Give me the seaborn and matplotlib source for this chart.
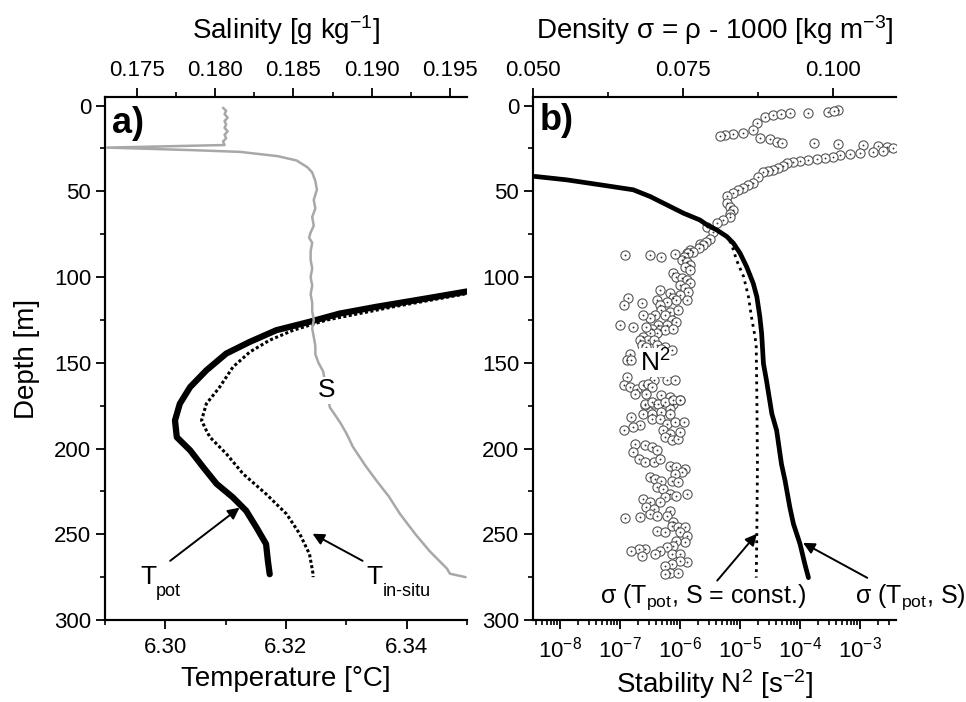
import numpy as np
import pandas as pd
import matplotlib
matplotlib.use("Agg")
import matplotlib.pyplot as plt
import seaborn as sns
from matplotlib.ticker import MultipleLocator, LogLocator, NullFormatter, FormatStrFormatter

# ---------------- data ----------------
# Panel a: salinity profile (top axis)
sal_depth = [1.3, 3, 5, 7, 9, 11, 13, 15, 17, 19, 21, 23, 24.5, 26, 27, 29.5, 32, 36, 39,
             44, 49, 55, 60, 65, 70, 74, 77, 80, 85, 90, 95, 100, 105, 110, 115, 120, 125,
             130, 135, 140, 145, 150, 155, 176, 185, 191.4, 199, 210, 219, 228, 238, 250,
             260, 270, 273, 275]
sal_value = [0.1805, 0.1807, 0.1806, 0.1808, 0.1806, 0.1807, 0.1806, 0.1808, 0.1806, 0.1807,
             0.1805, 0.1806, 0.1731, 0.1786, 0.1816, 0.1840, 0.1852, 0.1859, 0.1862,
             0.1864, 0.1865, 0.1863, 0.1864, 0.1862, 0.1863, 0.1861, 0.1860, 0.1862, 0.1861,
             0.1861, 0.1862, 0.1861, 0.1862, 0.1861, 0.1862, 0.1862, 0.1863, 0.1862, 0.1863,
             0.1864, 0.1864, 0.1866, 0.1869, 0.18733, 0.1880, 0.1884, 0.1888, 0.1896, 0.19033,
             0.1911, 0.1918, 0.1928, 0.19372, 0.19481, 0.1950, 0.1960]

# Panel a: potential temperature (bottom axis)
tpot_depth = [107.5, 112.5, 117.4, 121.3, 126.1, 131, 137.8, 144.6, 154.4, 164.2, 173.9,
              183.6, 193.4, 201, 211, 220.6, 228.5, 236.3, 246, 255.7, 265.5, 273.3]
tpot_value = [6.3515, 6.3432, 6.3349, 6.3289, 6.3239, 6.3184, 6.3140, 6.3101, 6.3068, 6.3041,
              6.3024, 6.3016, 6.3019, 6.3041, 6.3063, 6.3085, 6.3112, 6.3134, 6.3151, 6.3167,
              6.3170, 6.3173]

# Panel a: in-situ temperature
tins_depth = [108.5, 110.5, 117.4, 125.1, 131, 136.8, 143.7, 152.5, 164.2, 173.9, 183.6,
              189.5, 193.4, 203, 214.8, 226.5, 238.2, 249.9, 261.6, 273.3, 275]
tins_value = [6.3515, 6.3487, 6.3377, 6.3267, 6.3212, 6.3173, 6.3140, 6.3112, 6.3090, 6.3068,
              6.3060, 6.3068, 6.3074, 6.3101, 6.3129, 6.3167, 6.3201, 6.3223, 6.3239, 6.3245,
              6.3245]

# Panel b: density sigma(Tpot, S)
sig_depth = [41.3, 43.3, 46.2, 49.1, 53.0, 57.9, 62.8, 66.7, 69.6, 72.5, 76.4, 80.3, 86.1,
             94.0, 103.7, 111.5, 123.2, 133, 150.5, 160.2, 179.7, 189.5, 209, 218.7, 234.3,
             244, 255.7, 267.4, 275.3]
sig_value = [0.0503, 0.0556, 0.0612, 0.0667, 0.0695, 0.0723, 0.0751, 0.0778, 0.0790, 0.0806,
             0.0823, 0.0834, 0.0845, 0.0856, 0.0867, 0.0873, 0.0878, 0.0881, 0.0884, 0.0889,
             0.0898, 0.0906, 0.0914, 0.0920, 0.0928, 0.0934, 0.0945, 0.0953, 0.0959]

# Panel b: density sigma(Tpot, S = const.)
sigc_depth = [41.3, 43.3, 46.2, 49.1, 53.0, 57.9, 62.8, 66.7, 69.6, 72.5, 76.4, 80.3, 84.2,
              90, 99.8, 111.5, 123.2, 134.9, 140.7, 170, 209, 248, 275.3]
sigc_value = [0.0503, 0.0556, 0.0612, 0.0667, 0.0695, 0.0723, 0.0751, 0.0778, 0.0790, 0.0806,
              0.0823, 0.0830, 0.0834, 0.0839, 0.0851, 0.0859, 0.0864, 0.0870, 0.0872, 0.0873,
              0.0874, 0.0873, 0.0872]

# Panel b: stability N^2 (log10 of s^-2) vs depth
n2_depth = [6.4, 5.3, 4.7, 4.1, 4.1, 3.5, 2.3, 2.9, 10, 14, 15.8, 16.4, 17, 18, 18.7, 19.3, 21,
            21.6, 21.6, 22.2, 22.8, 23.4, 24, 25, 26.3, 26.9, 27.5, 28, 28.7, 29.8, 30.4, 31,
            31.6, 32.2, 32.7, 33.3, 35, 36.3, 37.4, 38, 39, 41.5, 45, 46.2, 48, 49, 51, 53,
            56.7, 59, 60.8, 63, 65, 66.7, 68.4, 70.8, 74, 78, 81, 84, 86,
            79.3, 81.3, 83.2, 85.2, 86.1, 88.1, 90.0, 91.0, 93.0, 93.9, 95.9, 97.8, 99.8,
            100.8, 101.7, 103.7, 104.7, 106.6, 108.6, 107.6, 109.5, 110.5, 112.5, 114.4,
            113.4, 116.4, 113.4, 113.4, 119.3, 120.3, 119.3, 122.2, 122.2, 123.6, 122.2,
            125.1, 126.1, 128.1, 128.1, 130.0, 131.0, 131.0, 130.0, 132.9, 132.9, 134.9,
            136.8, 136.8, 136.8, 139.8, 140.7, 139.8, 140.7, 142.7, 141.7, 144.6, 148.5,
            148.5, 155.3, 160.2, 160.2, 160.2, 158.3, 163.1, 164.1, 165.1, 163.1, 162.2,
            164.1, 168.0, 168.0, 169.0, 169.8, 171.9, 173.9, 174.8, 173.9, 174.8, 176.8,
            87.1, 87.1, 88.1, 86.5, 112.5, 116.4, 115.4, 128.1, 129.0, 129.0,
            173.8, 172.9, 173.8, 172.9, 171.9, 171.9, 179.7, 179.7, 178.7, 179.7, 181.6,
            186.5, 187.5, 189.1, 182.6, 182.6, 185.5, 184.6, 184.6, 189.4, 191.4, 193.3,
            195.3, 194.3, 190.4, 197.2, 198.2, 199.2, 201.1, 202.1, 206.0, 208.0, 208.0,
            206.0, 209.9, 210.9, 211.9, 213.8, 214.8, 216.7, 217.7, 218.7, 218.7, 219.7,
            222.6, 223.6, 226.5, 227.5, 226.5, 228.4, 229.4, 231.4, 234.3, 235.3, 231.4,
            238.2, 239.2, 240.1, 240.5, 236.2, 239.2, 243.1, 245.0, 246.0, 246.0, 247.9,
            248.9, 248.9, 250.8, 254.7, 253.8, 256.7, 257.7, 259.6, 261.6, 258.6, 258.6,
            259.6, 262.5, 261.6, 261.6, 266.4, 265.5, 267.4, 268.4, 272.3, 272.3, 273.3]
n2_log10 = [-4.58, -4.45, -4.32, -4.17, -3.87, -3.53, -3.37, -3.43, -4.72, -4.78, -4.95, -5.12,
            -5.25, -5.33, -4.67, -4.50, -4.38, -4.30, -3.77, -3.37, -2.95, -2.70, -2.55, -2.45,
            -2.62, -2.78, -3.00, -3.17, -3.33, -3.45, -3.58, -3.72, -3.87, -4.00, -4.12, -4.22,
            -4.28, -4.37, -4.45, -4.53, -4.62, -4.70, -4.78, -4.87, -4.95, -5.03, -5.12, -5.22,
            -5.22, -5.17, -5.12, -5.17, -5.17, -5.28, -5.38, -5.55, -5.45, -5.50, -5.67, -5.83,
            -5.88,
            -5.56, -5.61, -5.69, -5.78, -5.86, -5.94, -5.97, -5.89, -5.83, -5.92, -5.83, -6.11,
            -6.06, -5.97, -5.89, -5.83, -6.00, -5.92, -5.86, -6.33, -6.17, -6.00, -6.11, -6.22,
            -6.39, -6.33, -6.06, -5.89, -6.31, -6.17, -6.03, -6.25, -6.42, -6.50, -6.61,
            -6.14, -6.06, -6.22, -6.36, -6.47, -6.33, -6.25, -6.11, -6.39, -6.50, -6.61,
            -6.53, -6.44, -6.67, -6.64, -6.56, -6.39, -6.25, -6.14, -6.31, -6.83, -6.89,
            -6.81, -6.31, -6.22, -6.08, -6.44, -6.89, -6.94, -6.83, -6.72, -6.61, -6.53,
            -6.47, -6.56, -6.75, -6.31, -6.17, -6.00, -6.11, -6.28, -6.44, -6.58, -6.17,
            -6.92, -6.50, -6.31, -6.08, -6.86, -6.94, -6.64, -7.00, -6.78, -6.56,
            -6.58, -6.47, -6.36, -6.25, -6.11, -6.00, -6.61, -6.47, -6.31, -6.17, -6.81,
            -6.67, -6.78, -6.94, -6.47, -6.33, -6.22, -6.08, -5.94, -6.28, -6.17, -6.25,
            -6.14, -6.03, -6.00, -6.75, -6.58, -6.47, -6.39, -6.78, -6.69, -6.58, -6.44,
            -6.33, -6.17, -6.06, -5.92, -5.97, -6.08, -6.50, -6.42, -6.31, -6.14, -6.03,
            -6.39, -6.28, -6.17, -6.06, -5.89, -6.25, -6.61, -6.50, -6.56, -6.44, -6.33,
            -6.50, -6.39, -6.67, -6.92, -6.17, -6.22, -6.11, -6.14, -6.03, -5.92, -6.39,
            -6.25, -6.00, -5.89, -5.92, -6.06, -6.11, -6.22, -6.33, -6.42, -6.58, -6.69,
            -6.81, -6.64, -6.14, -6.00, -5.89, -6.00, -6.14, -6.25, -6.17, -6.03, -6.25]

# axis limits
depth_lim = (300, -5)
temp_lim = (6.29, 6.35)
sal_lim = (0.17296, 0.19609)
dens_lim = (0.050, 0.1105)
n2_lim = (10 ** -8.45, 10 ** -2.4)

# ---------------- style ----------------
sns.set_style("ticks")
plt.rcParams["font.family"] = ["Liberation Sans", "DejaVu Sans"]
plt.rcParams["mathtext.fontset"] = "custom"
plt.rcParams["mathtext.rm"] = "Liberation Sans"
plt.rcParams["mathtext.it"] = "Liberation Sans:italic"
plt.rcParams["mathtext.bf"] = "Liberation Sans:bold"
plt.rcParams["axes.linewidth"] = 1.5
plt.rcParams["axes.edgecolor"] = "black"
plt.rcParams["axes.labelcolor"] = "black"
plt.rcParams["text.color"] = "black"
plt.rcParams["xtick.color"] = "black"
plt.rcParams["ytick.color"] = "black"
plt.rcParams["xtick.labelcolor"] = "black"
plt.rcParams["ytick.labelcolor"] = "black"

TICK_FS = 16
LAB_FS = 20
ANN_FS = 19

fig = plt.figure(figsize=(9.66, 7.02), dpi=100)
ax_a = fig.add_axes([0.1087, 0.1168, 0.3747, 0.745])
ax_b = fig.add_axes([0.5518, 0.1168, 0.3758, 0.745])


def style_axis(ax, top=False):
    ax.tick_params(which="major", direction="out", length=6.5, width=1.3,
                   labelsize=TICK_FS, colors="black", labelcolor="black")
    ax.tick_params(which="minor", direction="out", length=3.5, width=1.2)
    ax.tick_params(axis="x", which="major", pad=5.5 if not top else 5)
    ax.spines["right"].set_visible(False)


arrow = dict(arrowstyle="-|>", color="black", lw=1.4, mutation_scale=17,
             shrinkA=0, shrinkB=0)

# ---------------- panel a ----------------
sns.lineplot(x=tpot_value, y=tpot_depth, sort=False, estimator=None, color="black",
             lw=4.5, ax=ax_a)
sns.lineplot(x=tins_value, y=tins_depth, sort=False, estimator=None, color="black",
             lw=2.2, linestyle=(0, (1, 0.8)), ax=ax_a)
ax_a.set_xlim(*temp_lim)
ax_a.set_ylim(*depth_lim)
ax_a.xaxis.set_major_locator(MultipleLocator(0.02))
ax_a.xaxis.set_minor_locator(MultipleLocator(0.01))
ax_a.xaxis.set_major_formatter(FormatStrFormatter("%.2f"))
ax_a.yaxis.set_major_locator(MultipleLocator(50))
ax_a.yaxis.set_minor_locator(MultipleLocator(25))
style_axis(ax_a)
ax_a.set_xlabel("Temperature [°C]", fontsize=LAB_FS, labelpad=6)
ax_a.set_ylabel("Depth [m]", fontsize=LAB_FS, labelpad=10)

ax_s = ax_a.twiny()
sns.lineplot(x=sal_value, y=sal_depth, sort=False, estimator=None, color="#a8a8a8",
             lw=1.8, ax=ax_s)
ax_s.set_xlim(*sal_lim)
ax_s.set_ylim(*depth_lim)
ax_s.xaxis.set_major_locator(MultipleLocator(0.005))
ax_s.xaxis.set_minor_locator(MultipleLocator(0.0025))
ax_s.xaxis.set_major_formatter(FormatStrFormatter("%.3f"))
style_axis(ax_s, top=True)
ax_s.set_xlabel("Salinity [g kg$^{-1}$]", fontsize=LAB_FS, labelpad=15)
ax_s.set_ylabel("")

ax_a.text(0.019, 0.982, "a)", transform=ax_a.transAxes, ha="left", va="top",
          fontsize=26, fontweight="bold")
ax_s.text(0.18714, 166, "S", ha="center", va="center", fontsize=ANN_FS,
          bbox=dict(facecolor="white", edgecolor="none", pad=1))

ax_a.annotate("", xy=(6.3123, 234.5), xytext=(6.3008, 265.5), arrowprops=arrow)
ax_a.text(6.2958, 279, "T", ha="left", va="baseline", fontsize=ANN_FS)
ax_a.text(6.2985, 286, "pot", ha="left", va="baseline", fontsize=13)
ax_a.annotate("", xy=(6.3244, 249.7), xytext=(6.3327, 265.5), arrowprops=arrow)
ax_a.text(6.3333, 279, "T", ha="left", va="baseline", fontsize=ANN_FS)
ax_a.text(6.3360, 286, "in-situ", ha="left", va="baseline", fontsize=13)

# ---------------- panel b ----------------
n2_values = [10 ** v for v in n2_log10]
sns.scatterplot(x=n2_values, y=n2_depth, marker="o", s=44, facecolor="white",
                edgecolor="#555555", linewidth=0.8, ax=ax_b, zorder=2)
sns.scatterplot(x=n2_values, y=n2_depth, marker="o", s=1.8, color="#333333",
                linewidth=0, ax=ax_b, zorder=3)
ax_b.set_xscale("log")
ax_b.set_xlim(*n2_lim)
ax_b.set_ylim(*depth_lim)
ax_b.xaxis.set_major_locator(LogLocator(base=10, numticks=20))
ax_b.xaxis.set_minor_locator(LogLocator(base=10, subs=np.arange(2, 10), numticks=20))
ax_b.xaxis.set_minor_formatter(NullFormatter())
ax_b.yaxis.set_major_locator(MultipleLocator(50))
ax_b.yaxis.set_minor_locator(MultipleLocator(25))
style_axis(ax_b)
ax_b.set_xlabel("Stability N$^{2}$ [s$^{-2}$]", fontsize=LAB_FS, labelpad=3)
ax_b.set_ylabel("")
ax_b.text(10 ** -6.42, 150, "N$^{2}$", ha="center", va="center", fontsize=ANN_FS,
          bbox=dict(facecolor="white", edgecolor="none", pad=0.5), zorder=4)

ax_d = ax_b.twiny()
sns.lineplot(x=sigc_value, y=sigc_depth, sort=False, estimator=None, color="black",
             lw=2.0, linestyle=(0, (1, 1.6)), ax=ax_d)
sns.lineplot(x=sig_value, y=sig_depth, sort=False, estimator=None, color="black",
             lw=3.4, ax=ax_d)
ax_d.set_xlim(*dens_lim)
ax_d.set_ylim(*depth_lim)
ax_d.xaxis.set_major_locator(MultipleLocator(0.025))
ax_d.xaxis.set_minor_locator(MultipleLocator(0.0125))
ax_d.xaxis.set_major_formatter(FormatStrFormatter("%.3f"))
style_axis(ax_d, top=True)
ax_d.set_xlabel("Density σ = ρ - 1000 [kg m$^{-3}$]", fontsize=LAB_FS, labelpad=15)
ax_d.set_ylabel("")

ax_b.text(0.019, 0.988, "b)", transform=ax_b.transAxes, ha="left", va="top",
          fontsize=26, fontweight="bold")

ax_b.annotate("", xy=(10 ** -4.72, 249.7), xytext=(10 ** -5.38, 277), arrowprops=arrow,
              annotation_clip=False)
ax_b.text(10 ** -7.33, 290, "σ (T$_{\\mathrm{pot}}$, S = const.)", ha="left",
          va="baseline", fontsize=18, clip_on=False)
ax_b.annotate("", xy=(10 ** -3.95, 255), xytext=(10 ** -2.88, 275.4), arrowprops=arrow,
              annotation_clip=False)
ax_b.text(10 ** -3.08, 290, "σ (T$_{\\mathrm{pot}}$, S)", ha="left", va="baseline",
          fontsize=18, clip_on=False)

fig.savefig("out.png", dpi=100)
